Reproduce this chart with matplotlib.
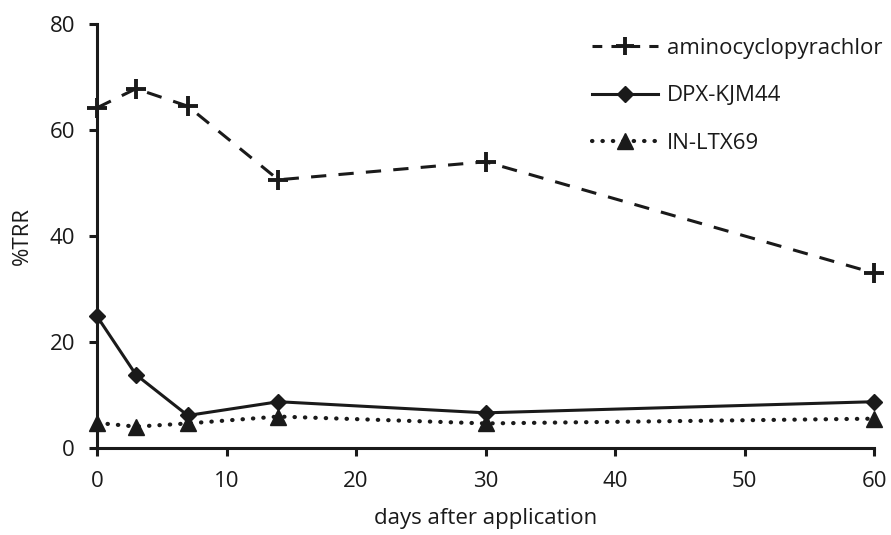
import matplotlib
matplotlib.use('Agg')
import matplotlib.pyplot as plt
from matplotlib.lines import Line2D

days = [0, 3, 7, 14, 30, 60]
amino = [64.2, 67.8, 64.5, 50.6, 54.0, 33.0]
dpx = [24.8, 13.8, 6.1, 8.7, 6.6, 8.7]
inltx = [4.7, 4.0, 4.6, 5.9, 4.6, 5.5]

plt.rcParams['font.family'] = ['Open Sans', 'DejaVu Sans']
fs = 16
ink = '#1a1a1a'

fig = plt.figure(figsize=(8.91, 5.35), dpi=100)
ax = fig.add_axes([0.109, 0.163, 0.872, 0.792])

ax.plot(days, amino, color=ink, lw=2.2, dashes=(5, 4), marker='+', ms=15, mew=2.8,
        clip_on=False)
ax.plot(days, dpx, color=ink, lw=2.2, marker='D', ms=8.5, clip_on=False)
ax.plot(days, inltx, color=ink, lw=3.0, dashes=(0.1, 2.4), dash_capstyle='round',
        marker='^', ms=11, clip_on=False)

ax.set_xlim(0, 60)
ax.set_ylim(0, 80)
ax.set_xticks([0, 10, 20, 30, 40, 50, 60])
ax.set_yticks([0, 20, 40, 60, 80])
for s in ['top', 'right']:
    ax.spines[s].set_visible(False)
for s in ['left', 'bottom']:
    ax.spines[s].set_linewidth(2.2)
    ax.spines[s].set_color(ink)
ax.tick_params(direction='out', length=6, width=2.2, color=ink,
               labelcolor=ink, labelsize=fs)
ax.tick_params(axis='x', pad=11)
ax.tick_params(axis='y', pad=10)

ax.set_xlabel('days after application', fontsize=fs, color=ink, labelpad=11)
ax.set_ylabel('%TRR', fontsize=fs, color=ink, labelpad=12)

h1 = Line2D([], [], color=ink, lw=2.2, dashes=(3.2, 3.0), marker='+', ms=13, mew=2.8)
h2 = Line2D([], [], color=ink, lw=2.2, marker='D', ms=8.5)
h3 = Line2D([], [], color=ink, lw=3.0, dashes=(0.1, 2.4), dash_capstyle='round',
            marker='^', ms=11)
leg = ax.legend([h1, h2, h3], ['aminocyclopyrachlor', 'DPX-KJM44', 'IN-LTX69'],
                loc='upper right', bbox_to_anchor=(1.037, 1.015), frameon=False,
                handlelength=3.0, handletextpad=0.4, labelspacing=1.2, fontsize=fs)
for t in leg.get_texts():
    t.set_color(ink)

fig.savefig('out.png', dpi=100)
